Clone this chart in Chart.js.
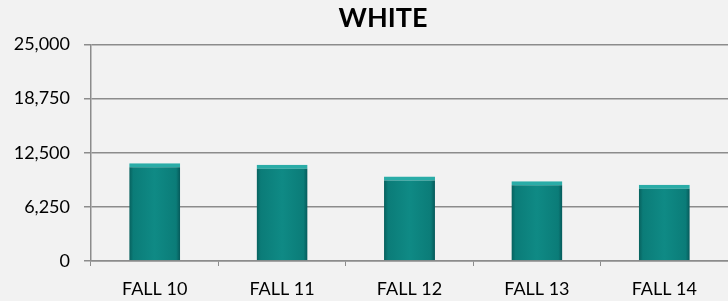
<!DOCTYPE html>
<html>
<head>
<meta charset="utf-8">
<script src="https://cdn.jsdelivr.net/npm/chart.js@4"></script>
<style>
  html, body { margin: 0; padding: 0; background: #f2f2f2; }
  #wrap { width: 728px; height: 301px; }
</style>
</head>
<body>
<div id="wrap"><canvas id="white_chart" width="728" height="301"></canvas></div>
<script>
// datos
const categorias = ['FALL 10', 'FALL 11', 'FALL 12', 'FALL 13', 'FALL 14'];
const valores = [11270, 11120, 9750, 9210, 8800];
const ticksY = [0, 6250, 12500, 18750, 25000];

const gris = '#8c8c8c';

// degradado horizontal para dar volumen a la barra
function colorBarra(ctx) {
    const chart = ctx.chart;
    const sx = chart.scales && chart.scales.x;
    if (!chart.chartArea || !sx || ctx.dataIndex === undefined) return '#0c827d';
    const cx = sx.getPixelForValue(ctx.dataIndex);
    const w = (sx.width / categorias.length) * 0.4;
    if (!Number.isFinite(cx) || !Number.isFinite(w)) return '#0c827d';
    const g = chart.ctx.createLinearGradient(cx - w / 2, 0, cx + w / 2, 0);
    g.addColorStop(0, '#07605d');
    g.addColorStop(0.08, '#0b7c78');
    g.addColorStop(0.5, '#0f8a85');
    g.addColorStop(0.92, '#0b7c78');
    g.addColorStop(1, '#06595a');
    return g;
}

// mover el titulo un poco a la derecha
const moverTitulo = {
    id: 'moverTitulo',
    afterLayout(chart) {
        if (chart.titleBlock) chart.titleBlock.left = 38;
    }
};

const ctx = document.getElementById('white_chart').getContext('2d');
new Chart(ctx, {
    type: 'bar',
    data: {
        labels: categorias,
        datasets: [{
            label: 'WHITE',
            data: valores,
            backgroundColor: colorBarra,
            borderColor: '#2aaca7',
            borderWidth: { top: 4, left: 0, right: 0, bottom: 0 },
            borderSkipped: 'bottom',
            barPercentage: 0.4,
            categoryPercentage: 1
        }]
    },
    options: {
        responsive: false,
        animation: false,
        layout: { padding: { left: 0, right: 0, top: 0, bottom: 0 } },
        plugins: {
            legend: { display: false },
            tooltip: { enabled: false },
            title: {
                display: true,
                text: 'WHITE',
                color: '#000',
                font: { family: 'Lato', size: 27, weight: 'bold' },
                padding: { top: 2, bottom: 10 }
            }
        },
        scales: {
            x: {
                afterFit: s => { s.height = 40; },
                grid: {
                    offset: true,
                    drawOnChartArea: false,
                    drawTicks: true,
                    tickLength: 5,
                    color: gris
                },
                border: { display: true, color: gris, width: 1.5 },
                ticks: {
                    color: '#000',
                    padding: 12,
                    font: { family: 'Lato', size: 18 }
                }
            },
            y: {
                min: 0,
                max: 25000,
                afterFit: s => { s.width = 91; },
                afterBuildTicks: s => { s.ticks = ticksY.map(v => ({ value: v })); },
                grid: { color: gris, lineWidth: 1.5, tickLength: 7 },
                border: { display: true, color: gris, width: 1.5 },
                ticks: {
                    color: '#000',
                    padding: 14,
                    font: { family: 'Lato', size: 18 },
                    callback: v => v.toLocaleString('en-US')
                }
            }
        }
    },
    plugins: [moverTitulo]
});
</script>
</body>
</html>
